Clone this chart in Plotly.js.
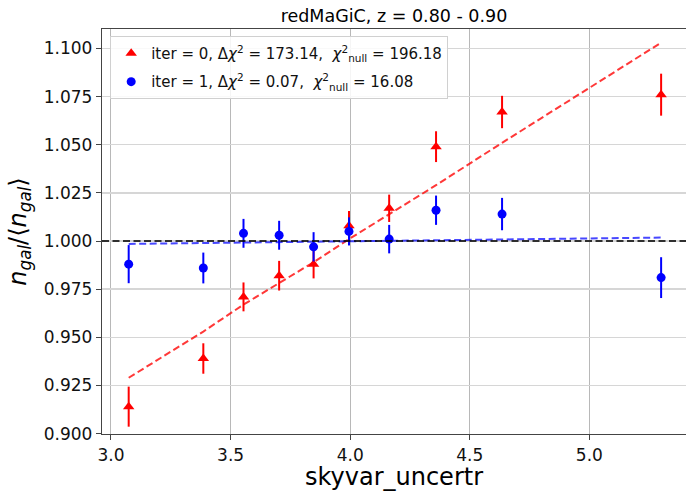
<!DOCTYPE html>
<html>
<head>
<meta charset="utf-8">
<script src="https://cdn.plot.ly/plotly-3.0.1.min.js"></script>
<style>html,body{margin:0;padding:0;background:#fff;}#chart{width:686px;height:491px;}</style>
</head>
<body>
<div id="chart"></div>
<script>
// ---- data ----
const xVals = [3.074, 3.386, 3.554, 3.703, 3.847, 3.995, 4.163, 4.359, 4.635, 5.300];

// iter = 0 (red triangles)
const iter0Y   = [0.914, 0.939, 0.971, 0.982, 0.988, 1.008, 1.017, 1.049, 1.067, 1.076];
const iter0Err = [0.0104, 0.0079, 0.0075, 0.0077, 0.0074, 0.0076, 0.0071, 0.0080, 0.0084, 0.0109];
const iter0Fit = [0.929, 0.953, 0.967, 0.978, 0.989, 1.001, 1.014, 1.029, 1.051, 1.103];

// iter = 1 (blue circles)
const iter1Y   = [0.988, 0.986, 1.004, 1.003, 0.997, 1.005, 1.001, 1.016, 1.014, 0.981];
const iter1Err = [0.0099, 0.0080, 0.0075, 0.0075, 0.0076, 0.0073, 0.0074, 0.0076, 0.0084, 0.0106];
const iter1Fit = [0.9985, 0.9990, 0.9992, 0.9994, 0.9997, 0.9999, 1.0001, 1.0004, 1.0008, 1.0018];

const refLevel = 1.0;

const legendLabels = [
  'iter = 0, Δ<i>χ</i><sup>2</sup> = 173.14,  <i>χ</i><sup>2</sup><sub>null</sub> = 196.18',
  'iter = 1, Δ<i>χ</i><sup>2</sup> = 0.07,  <i>χ</i><sup>2</sup><sub>null</sub> = 16.08'
];
const chartTitle = 'redMaGiC, z = 0.80 - 0.90';
const xTitle = 'skyvar_uncertr';
const yTitle = '<i>n</i><sub><i>gal</i></sub>/⟨<i>n</i><sub><i>gal</i></sub>⟩';

const FONT = 'DejaVu Sans, Liberation Sans, sans-serif';

const traces = [
  {
    x: xVals, y: iter0Fit, mode: 'lines', showlegend: false, hoverinfo: 'skip',
    line: {color: 'rgba(255,0,0,0.78)', width: 2, dash: '7px,3.5px'}
  },
  {
    x: xVals, y: iter1Fit, mode: 'lines', showlegend: false, hoverinfo: 'skip',
    line: {color: 'rgba(0,0,255,0.72)', width: 2, dash: '7px,3.5px'}
  },
  {
    x: xVals, y: iter0Y, mode: 'markers', name: legendLabels[0], legendgroup: 'a',
    marker: {symbol: 'triangle-up', size: 10, color: '#ff0000'},
    error_y: {type: 'data', array: iter0Err, visible: true, width: 0, thickness: 2, color: '#ff0000'}
  },
  {
    x: xVals, y: iter1Y, mode: 'markers', name: legendLabels[1], legendgroup: 'b',
    marker: {symbol: 'circle', size: 9, color: '#0000ff'},
    error_y: {type: 'data', array: iter1Err, visible: true, width: 0, thickness: 2, color: '#0000ff'}
  }
];

const layout = {
  width: 686, height: 491,
  margin: {l: 102, r: 0, t: 29, b: 57, pad: 0},
  paper_bgcolor: '#ffffff', plot_bgcolor: '#ffffff',
  font: {family: FONT, color: '#000', size: 17},
  title: {text: chartTitle, font: {family: FONT, size: 17.5, color: '#000'},
          x: 0.5, xref: 'paper', xanchor: 'center', y: 0.968, yref: 'container', yanchor: 'middle'},
  xaxis: {
    range: [2.9624, 5.404], tickvals: [3.0, 3.5, 4.0, 4.5, 5.0], tickformat: '.1f',
    showgrid: true, gridcolor: '#b8b8b8', gridwidth: 1, zeroline: false,
    showline: true, linecolor: '#444', linewidth: 1.2, mirror: true,
    ticks: 'outside', ticklen: 5, tickwidth: 1, tickcolor: '#444',
    tickfont: {family: FONT, size: 17, color: '#111'},
    title: {text: xTitle, font: {family: FONT, size: 24, color: '#000'}, standoff: 6},
    automargin: false
  },
  yaxis: {
    range: [0.8998, 1.1101], dtick: 0.025, tick0: 0.9, tickformat: '.3f',
    showgrid: true, gridcolor: '#d6d6d6', gridwidth: 1.5, zeroline: false,
    showline: true, linecolor: '#444', linewidth: 1.2, mirror: false,
    ticks: 'outside', ticklen: 5, tickwidth: 1, tickcolor: '#444',
    tickfont: {family: FONT, size: 17, color: '#111'},
    title: {text: yTitle, font: {family: FONT, size: 24, color: '#000'}, standoff: 10},
    automargin: false
  },
  shapes: [
    {type: 'line', xref: 'paper', x0: 0, x1: 1, yref: 'y', y0: refLevel, y1: refLevel,
     line: {color: 'rgba(0,0,0,0.78)', width: 2, dash: '7px,3.5px'}, layer: 'above'}
  ],
  showlegend: true,
  legend: {
    x: 0.014, y: 0.983, xanchor: 'left', yanchor: 'top', xref: 'paper', yref: 'paper',
    bgcolor: 'rgba(255,255,255,0.85)', bordercolor: '#d0d0d0', borderwidth: 1,
    font: {family: FONT, size: 15, color: '#111'},
    tracegroupgap: 6, itemwidth: 30
  }
};

Plotly.newPlot('chart', traces, layout, {displayModeBar: false, staticPlot: true});
</script>
</body>
</html>
